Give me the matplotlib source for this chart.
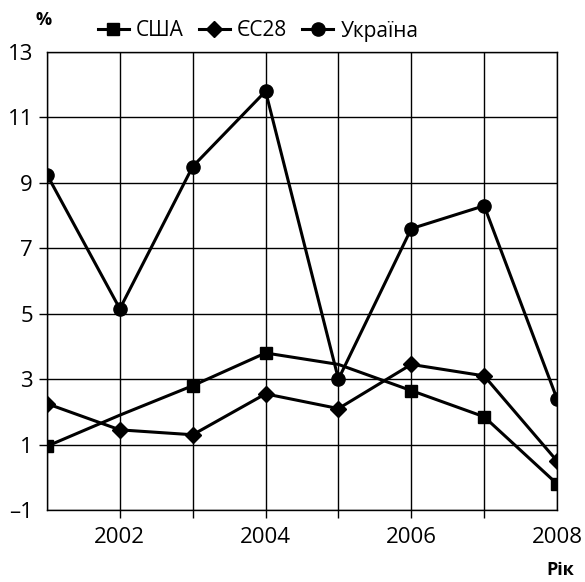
import matplotlib
matplotlib.use("Agg")
import matplotlib.pyplot as plt
import numpy as np

plt.rcParams['font.family'] = ['Open Sans', 'DejaVu Sans']

years = [2001, 2002, 2003, 2004, 2005, 2006, 2007, 2008]
usa = [0.95, 1.9, 2.8, 3.8, 3.45, 2.65, 1.85, -0.2]
usa_markers = [0, 2, 3, 5, 6, 7]  # no markers drawn at 2002 and 2005
eu28 = [2.25, 1.45, 1.3, 2.55, 2.1, 3.45, 3.1, 0.5]
ukraine = [9.25, 5.15, 9.5, 11.8, 3.0, 7.6, 8.3, 2.4]

yticks = [-1, 1, 3, 5, 7, 9, 11, 13]
ytick_labels = ['–1', '1', '3', '5', '7', '9', '11', '13']
xtick_labels = ['', '2002', '', '2004', '', '2006', '', '2008']

fig = plt.figure(figsize=(5.85, 5.82), dpi=100)
ax = fig.add_axes([47 / 585, 1 - 510 / 582, 510 / 585, 458 / 582])

lw = 2.2
ax.plot(years, usa, color='black', lw=lw, marker='s', markersize=8.5,
        markevery=usa_markers, label='США', zorder=3)
ax.plot(years, eu28, color='black', lw=lw, marker='D', markersize=8.5,
        label='ЄС28', zorder=3)
ax.plot(years, ukraine, color='black', lw=lw, marker='o', markersize=9.5,
        label='Україна', zorder=3)

ax.set_xlim(2001, 2008)
ax.set_ylim(-1, 13)
ax.set_xticks(years)
ax.set_xticklabels(xtick_labels)
ax.set_yticks(yticks)
ax.set_yticklabels(ytick_labels)
ax.tick_params(axis='both', direction='out', length=6, width=1,
               labelsize=16, color='black', pad=4)
ax.tick_params(axis='x', pad=6)
ax.grid(True, color='black', lw=1)
ax.set_axisbelow(True)
for s in ax.spines.values():
    s.set_color('black')
    s.set_linewidth(1)

# no outer ticks at the corners
for t in (ax.xaxis.get_major_ticks()[0], ax.xaxis.get_major_ticks()[-1],
          ax.yaxis.get_major_ticks()[0], ax.yaxis.get_major_ticks()[-1]):
    t.tick1line.set_visible(False)

fig.text(44 / 585, 1 - 20 / 582, '%', fontsize=13, fontweight='bold',
         ha='center', va='center')
fig.text(560 / 585, 1 - 570 / 582, 'Рік', fontsize=13, fontweight='bold',
         ha='center', va='center')

fig.legend(loc='center', bbox_to_anchor=(258 / 585, 1 - 31 / 582), ncol=3,
           frameon=False, fontsize=15, handlelength=1.5, handletextpad=0.35,
           columnspacing=0.7, borderpad=0)

plt.savefig('out.png', dpi=100)
plt.close()
